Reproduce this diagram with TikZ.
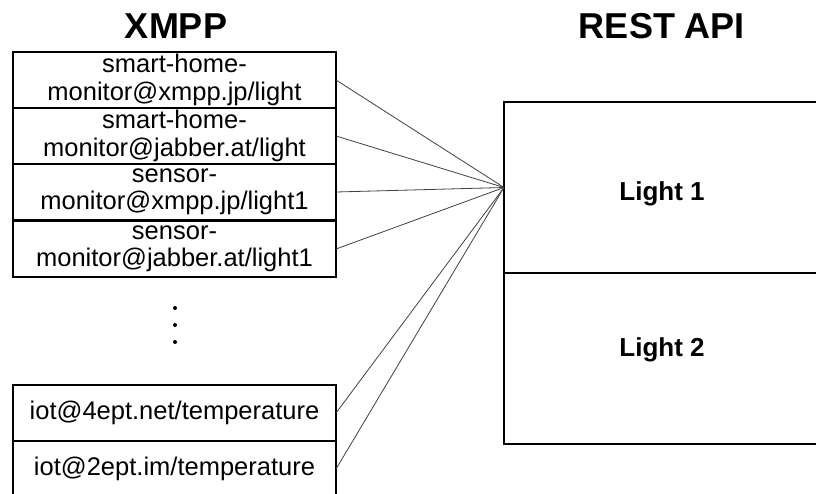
\documentclass[tikz,border=0pt]{standalone}
\usepackage{fontspec}
\setmainfont{Liberation Sans}
\begin{document}
\begin{tikzpicture}[x=1pt,y=-1pt,
  title/.style={anchor=base, inner sep=0pt, font=\bfseries\fontsize{36}{40}\selectfont},
  xbox/.style={draw, line width=1.6pt, anchor=north west, outer sep=0pt, inner sep=0pt,
    minimum width=323pt, minimum height=56pt, align=center,
    font=\fontsize{25.5}{27.3}\selectfont},
  rbox/.style={draw, line width=1.4pt, anchor=north west, outer sep=0pt, inner sep=0pt,
    minimum width=316pt, minimum height=171pt},
  lightlabel/.style={anchor=base, inner sep=0pt, font=\bfseries\fontsize{26}{30}\selectfont},
  conn/.style={draw=black!75, line width=0.8pt},
  dot/.style={fill=black, circle, inner sep=0pt, minimum size=4pt}]
\useasboundingbox (0,0) rectangle (816,493);
\clip (0,0) rectangle (816,493);

% headings
\node[title] (hx) at (176,38) {XMPP};
\node[title] (hr) at (662,38) {REST API};

% XMPP resources
\node[xbox] (x1) at (13,52)  {smart-home-\\monitor@xmpp.jp/light};
\node[xbox] (x2) at (13,108) {smart-home-\\monitor@jabber.at/light};
\node[xbox] (x3) at (13,164) {sensor-\\monitor@xmpp.jp/light1};
\node[xbox] (x4) at (13,221) {sensor-\\monitor@jabber.at/light1};
\node[xbox] (x5) at (13,385) {iot@4ept.net/temperature};
\node[xbox] (x6) at (13,441) {iot@2ept.im/temperature};

% ellipsis between the two groups
\node[dot] (d1) at (175,308) {};
\node[dot] (d2) at (175,325) {};
\node[dot] (d3) at (175,342) {};

% REST API resources
\node[rbox] (l1) at (504,102) {};
\node[rbox] (l2) at (504,273) {};
\node[lightlabel] (t1) at (662,200) {Light 1};
\node[lightlabel] (t2) at (662,356) {Light 2};

% mappings
\foreach \n in {x1,x2,x3,x4,x5,x6}
  \draw[conn] (\n.east) -- (l1.west);
\end{tikzpicture}
\end{document}
